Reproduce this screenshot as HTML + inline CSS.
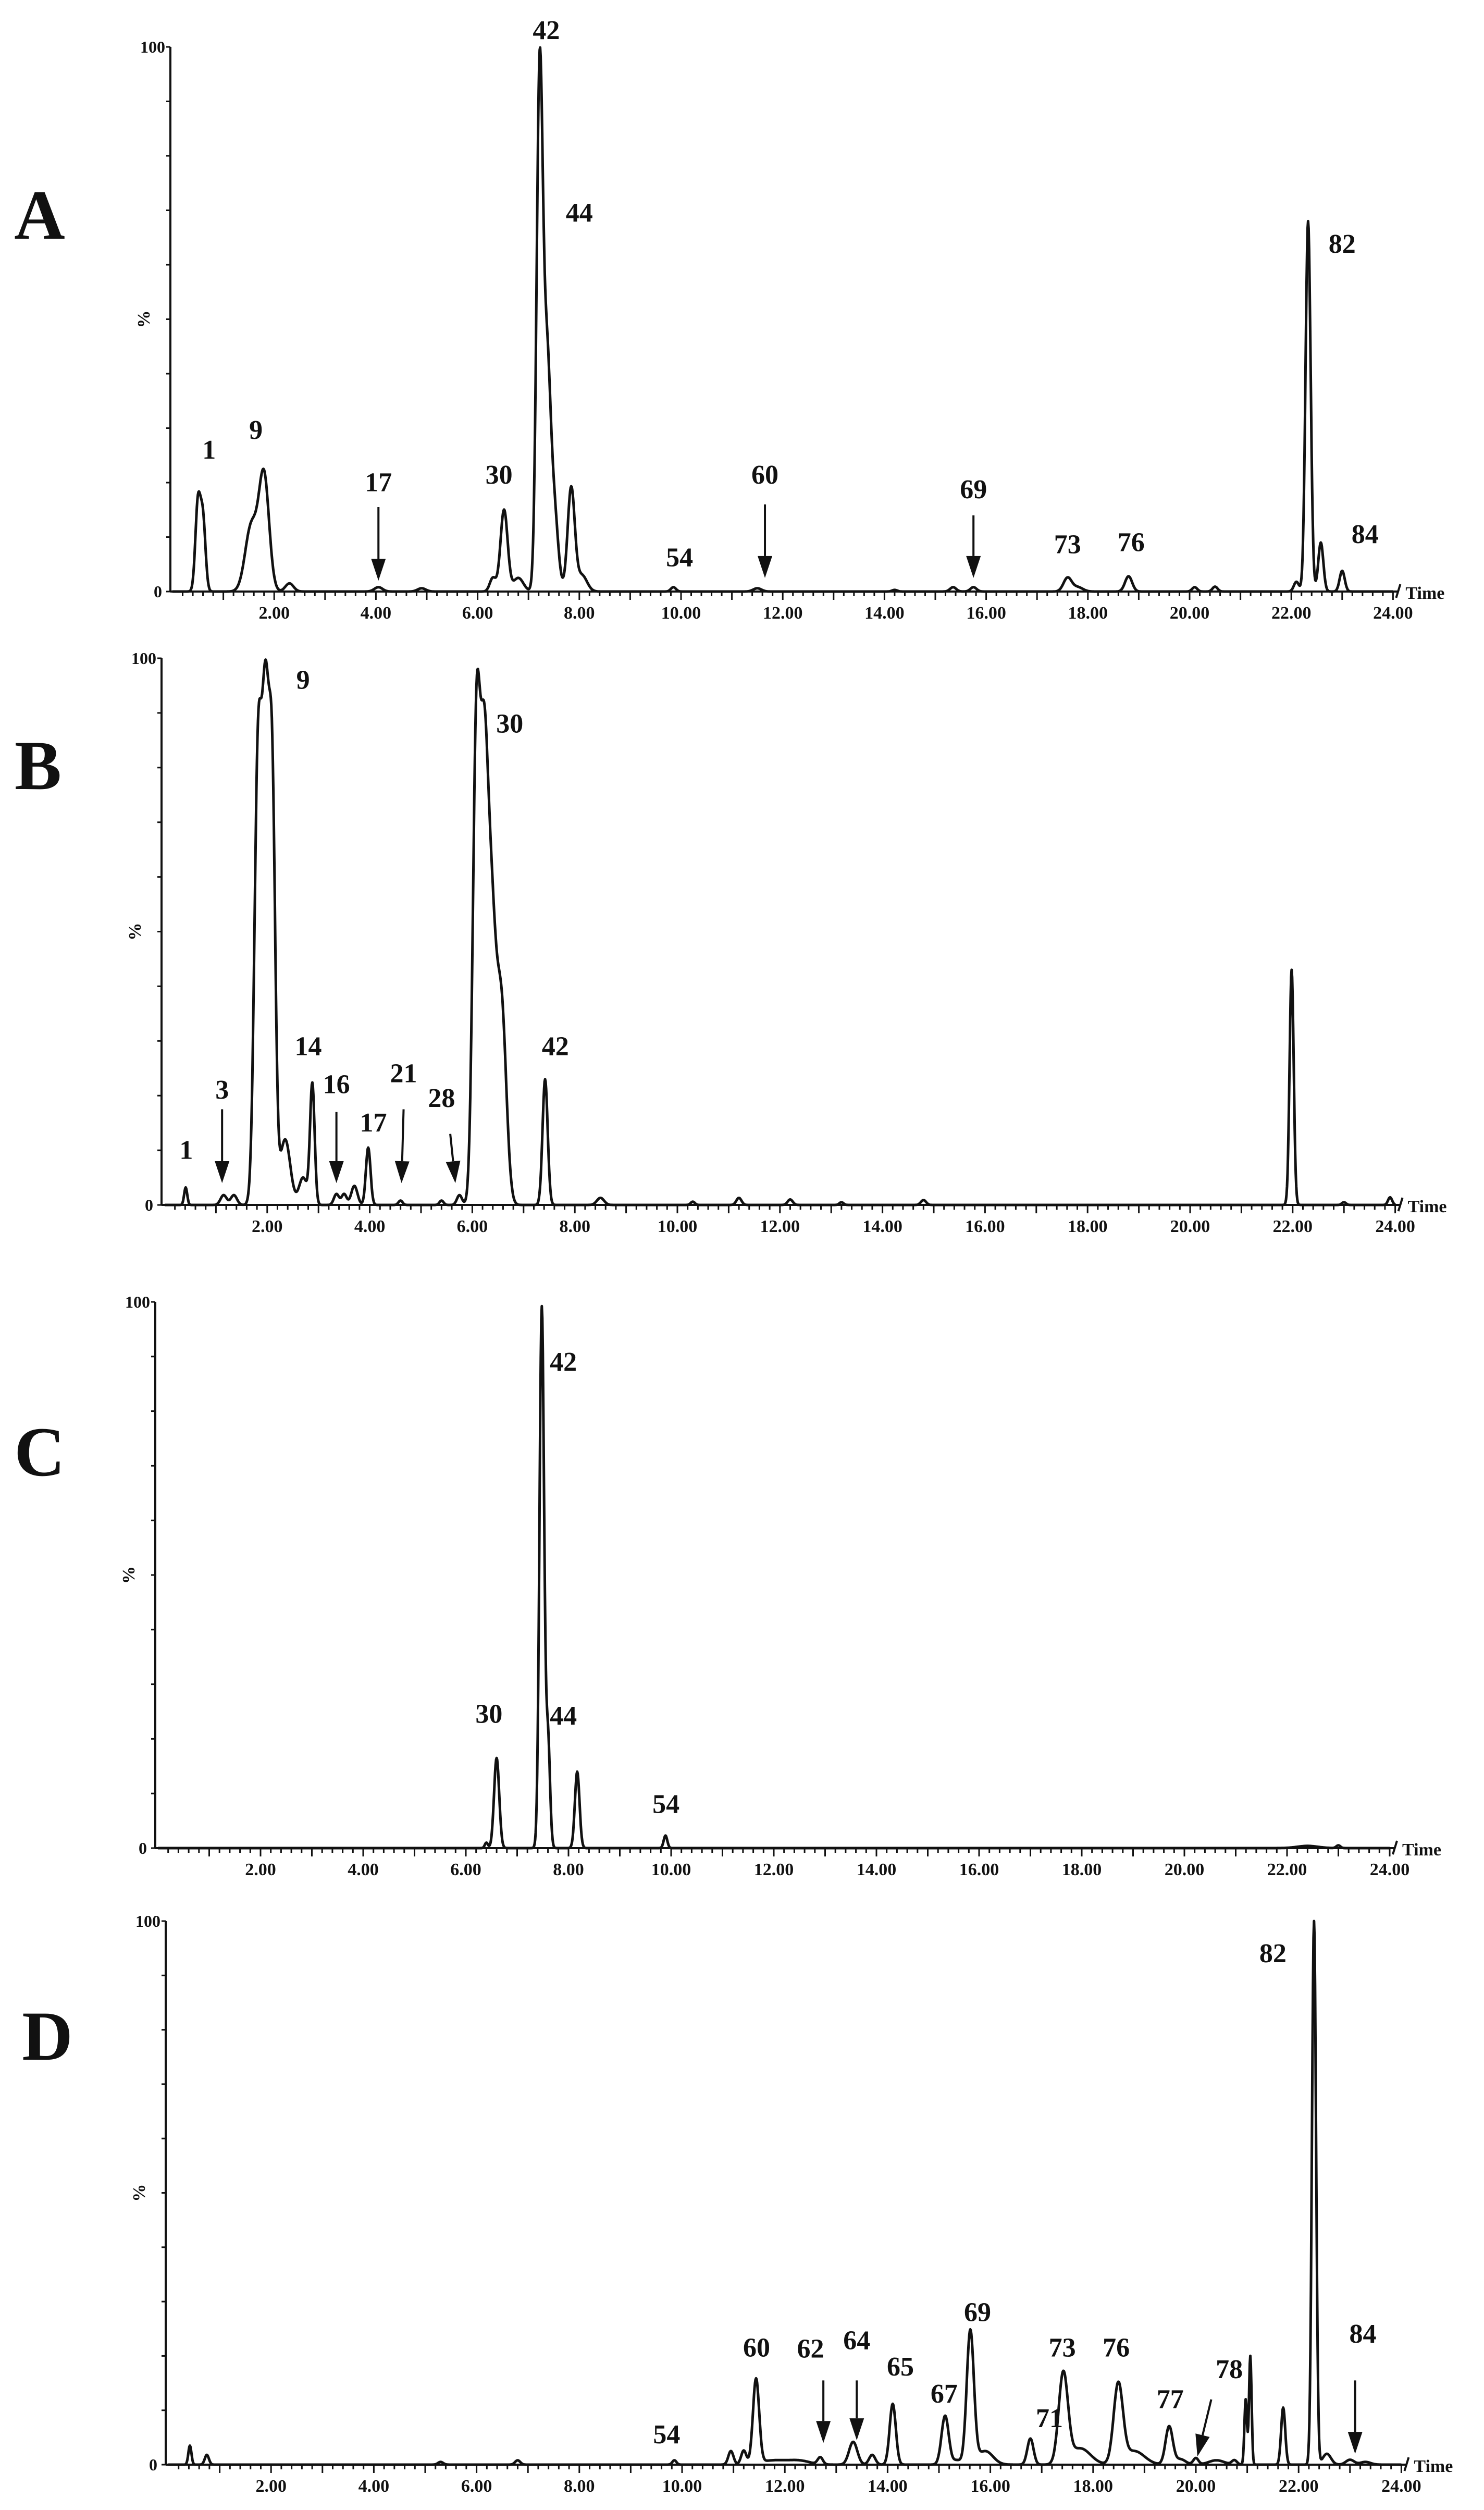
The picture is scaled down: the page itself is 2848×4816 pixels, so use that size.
<!DOCTYPE html>
<html><head><meta charset="utf-8"><style>
html,body{margin:0;padding:0;background:#fff;}
svg{display:block;}
text{font-family:"Liberation Serif",serif;font-weight:bold;fill:#111;}
</style></head><body>
<svg id="chart" width="2848" height="4816" viewBox="0 0 2848 4816" xmlns="http://www.w3.org/2000/svg"></svg>
<script>
// Panel A peaks: retention time (min), relative height (%), width (sigma, min)
const peaksA_t = [0.5,0.6,1.55,1.8,2.3,4.05,4.9,6.3,6.52,6.8,7.22,7.36,7.5,7.84,8.05,9.85,11.5,14.2,15.35,15.75,17.6,17.8,18.8,20.1,20.5,22.1,22.33,22.58,23.0];
const peaksA_h = [16,13,12,21,1.5,0.8,0.6,2.5,15,2.5,94,40,15,19,3,0.8,0.6,0.3,0.8,0.8,2.5,0.8,2.8,0.8,0.9,1.8,68,9,3.8];
const peaksA_w = [0.05,0.05,0.12,0.1,0.08,0.08,0.08,0.06,0.07,0.1,0.06,0.07,0.08,0.07,0.1,0.05,0.08,0.05,0.06,0.06,0.08,0.1,0.07,0.05,0.05,0.05,0.05,0.05,0.05];
// Panel B
const peaksB_t = [0.41,1.15,1.35,1.82,1.97,2.1,2.35,2.7,2.88,3.35,3.5,3.7,3.97,4.6,5.4,5.75,6.08,6.22,6.35,6.58,7.42,8.5,10.3,11.2,12.2,13.2,14.8,21.98,23.0,23.9];
const peaksB_h = [3.2,1.8,1.8,80,85,70,12,5,22,2,2,3.5,10.5,0.8,0.8,1.8,85,52,58,32,23,1.3,0.6,1.3,1,0.5,0.9,43,0.5,1.4];
const peaksB_w = [0.03,0.06,0.06,0.07,0.07,0.06,0.1,0.08,0.045,0.05,0.05,0.06,0.045,0.04,0.04,0.05,0.07,0.07,0.11,0.09,0.05,0.07,0.04,0.05,0.05,0.04,0.05,0.04,0.04,0.04];
// Panel C
const peaksC_t = [6.4,6.6,7.48,7.6,8.17,9.89,22.4,23.0];
const peaksC_h = [1,16.5,99,20,14,2.3,0.4,0.5];
const peaksC_w = [0.03,0.05,0.045,0.04,0.045,0.035,0.2,0.04];
// Panel D
const peaksD_t = [0.42,0.75,5.3,6.8,9.85,10.95,11.2,11.44,11.8,12.3,12.69,13.33,13.7,14.1,15.12,15.35,15.61,15.9,16.78,17.42,17.75,18.49,18.8,19.48,19.7,20.0,20.4,20.75,20.97,21.06,21.7,22.3,22.55,23.0,23.3];
const peaksD_h = [3.5,1.8,0.5,0.8,0.8,2.5,2.5,15.5,0.8,0.6,1.3,4.2,1.8,11.2,9,0.8,24.5,2.5,4.8,16.5,3,14.5,2.5,7,1,1.2,0.8,0.8,12,20,10.5,100,2,0.9,0.5];
const peaksD_w = [0.03,0.04,0.05,0.05,0.04,0.05,0.05,0.06,0.3,0.2,0.05,0.08,0.06,0.06,0.07,0.08,0.07,0.15,0.06,0.09,0.2,0.09,0.2,0.07,0.1,0.05,0.15,0.05,0.025,0.025,0.04,0.04,0.08,0.08,0.1];

const tickLabels = ["2.00","4.00","6.00","8.00","10.00","12.00","14.00","16.00","18.00","20.00","22.00","24.00"];
const tickValues = [2,4,6,8,10,12,14,16,18,20,22,24];

// Peak annotations per panel (label centre: time, %)
const labA_text = ["1","9","17","30","42","44","54","60","69","73","76","82","84"];
const labA_t = [0.72,1.64,4.05,6.42,7.35,8.0,9.97,11.65,15.75,17.6,18.85,23.0,23.45];
const labA_y = [26,29.6,20,21.4,103,69.5,6.2,21.4,18.7,8.6,9,63.8,10.5];
const labB_text = ["1","3","9","30","14","16","17","21","28","42"];
const labB_t = [0.42,1.12,2.7,6.73,2.8,3.35,4.07,4.66,5.4,7.62];
const labB_y = [10,21,96,88,29,22,15,24,19.5,29];
const labC_text = ["42","30","44","54"];
const labC_t = [7.9,6.45,7.9,9.9];
const labC_y = [89,24.5,24.2,8];
const labD_text = ["54","60","62","64","65","67","69","71","73","76","77","78","82","84"];
const labD_t = [9.7,11.45,12.5,13.4,14.25,15.1,15.75,17.15,17.4,18.45,19.5,20.65,21.5,23.25];
const labD_y = [5.5,21.5,21.3,22.8,18,13,28,8.5,21.5,21.5,12,17.5,94,24];
// arrows: [t start, % start, t end, % end]
const arrA = [[4.05,15.5,4.05,2],[11.65,16,11.65,2.5],[15.75,14,15.75,2.5]];
const arrB = [[1.12,17.5,1.12,4],[3.35,17,3.35,4],[4.66,17.5,4.62,4],[5.57,13,5.67,4]];
const arrC = [];
const arrD = [[12.75,15.5,12.75,4],[13.4,15.5,13.4,4.5],[20.3,12,20.03,1.5],[23.1,15.5,23.1,2]];

const panels = [
  {id:"a",letter:"A",lx:76,ly:413,axis:327,x0:331,ppm:97.6,top:90,base:1135,t:peaksA_t,h:peaksA_h,w:peaksA_w,lt:labA_text,ltt:labA_t,lty:labA_y,arr:arrA},
  {id:"b",letter:"B",lx:73,ly:1469,axis:310,x0:316,ppm:98.4,top:1263,base:2312,t:peaksB_t,h:peaksB_h,w:peaksB_w,lt:labB_text,ltt:labB_t,lty:labB_y,arr:arrB},
  {id:"c",letter:"C",lx:76,ly:2786,axis:298,x0:303,ppm:98.5,top:2498,base:3546,t:peaksC_t,h:peaksC_h,w:peaksC_w,lt:labC_text,ltt:labC_t,lty:labC_y,arr:arrC},
  {id:"d",letter:"D",lx:91,ly:3907,axis:318,x0:323,ppm:98.6,top:3686,base:4729,t:peaksD_t,h:peaksD_h,w:peaksD_w,lt:labD_text,ltt:labD_t,lty:labD_y,arr:arrD}
];

const NS = "http://www.w3.org/2000/svg";
const svg = document.getElementById("chart");
function mk(tag, attrs, parent){
  const e = document.createElementNS(NS, tag);
  for (const k in attrs) e.setAttribute(k, attrs[k]);
  (parent||svg).appendChild(e);
  return e;
}

panels.forEach(p => {
  const xS = t => p.x0 + t * p.ppm;
  const yS = v => p.base - v * (p.base - p.top) / 100;
  const g = mk("g", {});
  
  

  const letter = mk("text", {x:p.lx, y:p.ly+45, "font-size":135, "text-anchor":"middle"}, g);
  letter.textContent = p.letter;
  
  

  const ya = mk("line", {x1:p.axis, y1:p.top, x2:p.axis, y2:p.base, stroke:"#111", "stroke-width":4}, g);
  
  
  for (let v = 0; v <= 100; v += 10) {
    mk("line", {x1:p.axis-8, y1:yS(v), x2:p.axis, y2:yS(v), stroke:"#111", "stroke-width":3}, g);
  }
  const y100 = mk("text", {x:p.axis-10, y:p.top+11, "font-size":32, "text-anchor":"end"}, g);
  y100.textContent = "100";
  
  
  const y0 = mk("text", {x:p.axis-16, y:p.base+11, "font-size":32, "text-anchor":"end"}, g);
  y0.textContent = "0";
  
  
  const yt = mk("text", {x:0, y:0, "font-size":34, "text-anchor":"middle", transform:"translate(" + (p.axis-40) + "," + yS(50) + ") rotate(-90)"}, g);
  yt.textContent = "%";
  
  

  const xa = mk("line", {x1:p.axis, y1:p.base, x2:xS(24)+10, y2:p.base, stroke:"#111", "stroke-width":4}, g);
  
  
  mk("path", {d:"M"+(xS(24)+6)+","+(p.base+12)+" L"+(xS(24)+14)+","+(p.base-14), stroke:"#111", "stroke-width":4, fill:"none"}, g);
  for (let i = 1; i <= 120; i++) {
    const t = i * 0.2;
    const len = (i % 5 === 0) ? 16 : 9;
    mk("line", {x1:xS(t), y1:p.base, x2:xS(t), y2:p.base+len, stroke:"#111", "stroke-width":3}, g);
  }
  tickLabels.forEach((lab, i) => {
    const tl = mk("text", {x:xS(tickValues[i]), y:p.base+52, "font-size":34, "text-anchor":"middle"}, g);
    tl.textContent = lab;
    
    
  });
  const tt = mk("text", {x:xS(24)+24, y:p.base+14, "font-size":34}, g);
  tt.textContent = "Time";
  
  

  let d = "";
  for (let i = 0; i <= 2400; i++) {
    const t = i * 0.01;
    let s = 0;
    for (let k = 0; k < p.t.length; k++) {
      const dt = t - p.t[k];
      s += p.h[k] * Math.exp(-dt*dt / (2*p.w[k]*p.w[k]));
    }
    d += (i ? "L" : "M") + xS(t).toFixed(1) + "," + yS(Math.min(s,100)).toFixed(1);
  }
  const tr = mk("path", {d:d, fill:"none", stroke:"#111", "stroke-width":5, "stroke-linejoin":"round"}, g);
  
  

  p.lt.forEach((s, i) => {
    const tx = mk("text", {x:xS(p.ltt[i]), y:yS(p.lty[i]), "font-size":52, "text-anchor":"middle", "dominant-baseline":"central"}, g);
    tx.textContent = s;
    
    
  });

  p.arr.forEach(a => {
    const x1 = xS(a[0]), y1 = yS(a[1]), x2 = xS(a[2]), y2 = yS(a[3]);
    const ang = Math.atan2(y2-y1, x2-x1);
    const L = 42, W = 14;
    const bx = x2 - L*Math.cos(ang), by = y2 - L*Math.sin(ang);
    const ag = mk("g", {}, g);
    
    
    mk("line", {x1:x1, y1:y1, x2:bx, y2:by, stroke:"#111", "stroke-width":4}, ag);
    const px = -Math.sin(ang), py = Math.cos(ang);
    mk("polygon", {points: x2+","+y2+" "+(bx+W*px)+","+(by+W*py)+" "+(bx-W*px)+","+(by-W*py), fill:"#111"}, ag);
  });
});
</script>
</body></html>
